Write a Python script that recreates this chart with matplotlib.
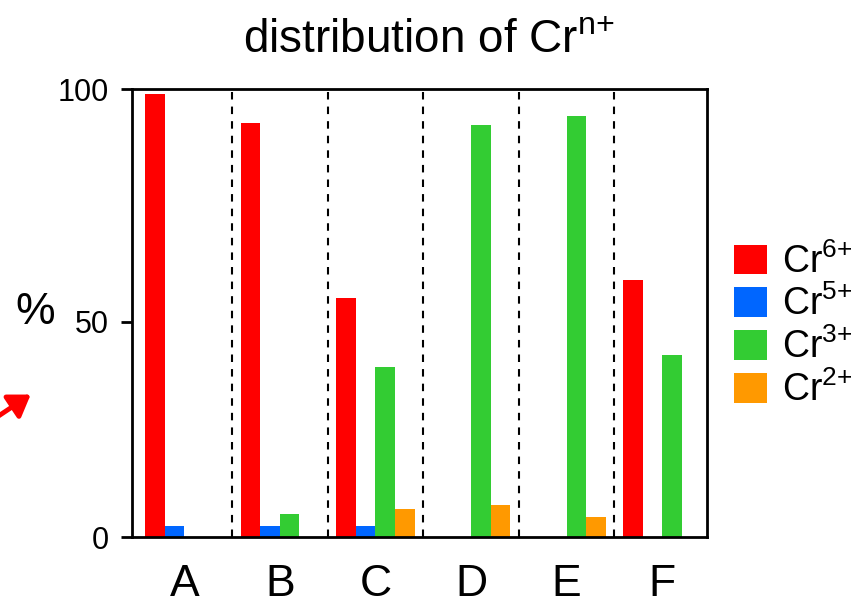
import numpy as np
import matplotlib
matplotlib.use("Agg")
import matplotlib.pyplot as plt
from matplotlib.patches import FancyArrowPatch

plt.rcParams['font.family'] = ['Liberation Sans', 'DejaVu Sans']
plt.rcParams['mathtext.default'] = 'regular'

categories = ['A', 'B', 'C', 'D', 'E', 'F']
series_names = ['Cr$^{6{+}}$', 'Cr$^{5{+}}$', 'Cr$^{3{+}}$', 'Cr$^{2{+}}$']
cr6 = [99.0, 92.8, 55.0, 0.0, 0.0, 59.0]
cr5 = [2.6, 2.6, 2.6, 0.0, 0.0, 0.0]
cr3 = [0.0, 5.5, 39.6, 92.4, 94.3, 42.3]
cr2 = [0.0, 0.0, 6.5, 7.5, 4.7, 0.0]
yticks = [0, 50, 100]
colors = ['#FF0000', '#0066FF', '#33CC33', '#FF9900']

# piecewise-linear y scale (the reference axis is not uniform between 0-50 and 50-100)
LOW = 215.6 / 50.0
HIGH = 232.4 / 50.0


def fwd(v):
    v = np.asarray(v, dtype=float)
    return np.where(v <= 50, v * LOW, 50 * LOW + (v - 50) * HIGH)


def inv(p):
    p = np.asarray(p, dtype=float)
    return np.where(p <= 50 * LOW, p / LOW, 50 + (p - 50 * LOW) / HIGH)


fig = plt.figure(figsize=(8.52, 6.06), dpi=100)
ax = fig.add_axes([131.5 / 852, 1 - 537.3 / 606, (707 - 131.5) / 852, (537.3 - 89.3) / 606])
ax.set_yscale('function', functions=(fwd, inv))

x = np.arange(len(categories))
w = 0.205
series = [cr6, cr5, cr3, cr2]
offsets = [-1.5, -0.5, 0.5, 1.5]
for vals, off, c, name in zip(series, offsets, colors, series_names):
    ax.bar(x + off * w, vals, width=w, color=c, label=name, edgecolor='none')

for i in range(len(categories) - 1):
    ax.axvline(i + 0.5, color='black', lw=1.5, linestyle=(0, (3.6, 3.4)), zorder=0)

ax.set_xlim(-0.552, 5.468)
ax.set_ylim(0, 100)
ax.set_yticks(yticks)
ax.set_yticklabels([str(t) for t in yticks])
ax.minorticks_off()
ax.set_xticks(x)
ax.set_xticklabels(categories)
for s in ax.spines.values():
    s.set_linewidth(2.0)
ax.tick_params(axis='y', length=8, width=2.0, labelsize=22, pad=8)
ax.tick_params(axis='x', length=0, labelsize=32, pad=19)

fig.text(429 / 852, 1 - 53 / 606, 'distribution of Cr$^{n{+}}$', fontsize=33,
         ha='center', va='baseline')
fig.text(35 / 852, 1 - 313 / 606, '%', fontsize=32, ha='center', va='center')

ax.legend(loc='center left', bbox_to_anchor=(734 / 852, 1 - 326 / 606),
          bbox_transform=fig.transFigure, frameon=False, fontsize=27,
          handlelength=0.88, handleheight=0.85, handletextpad=0.4,
          labelspacing=0.14, borderpad=0, borderaxespad=0)

arrow = FancyArrowPatch((-15 / 852, 1 - 425 / 606), (33 / 852, 1 - 393 / 606),
                        transform=fig.transFigure, arrowstyle='-|>,head_length=0.9,head_width=0.6',
                        mutation_scale=14, color='#FF0000', lw=3.5)
fig.patches.append(arrow)

fig.savefig('out.png', dpi=100)
